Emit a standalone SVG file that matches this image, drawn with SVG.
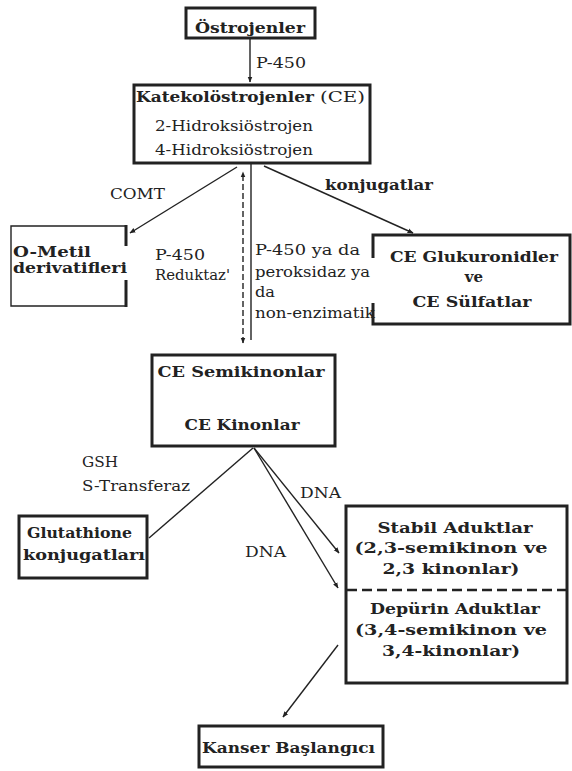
<svg xmlns="http://www.w3.org/2000/svg" width="572" height="771" viewBox="0 0 572 771">
<defs>
<marker id="ah" viewBox="0 0 10 10" refX="9" refY="5" markerWidth="6" markerHeight="6" orient="auto-start-reverse" markerUnits="userSpaceOnUse">
<path d="M0,1 L10,5 L0,9 z" fill="#222"/>
</marker>
<style>
text{font-family:'DejaVu Serif','Liberation Serif',serif;fill:#222;font-size:15px}
.b{font-weight:bold}
.s{font-size:14px}
.box{fill:#fff;stroke:#222;stroke-width:3}
.ln{stroke:#222;stroke-width:1.4;fill:none}
.edge{stroke:#222;stroke-width:3;fill:none}
</style>
</defs>
<rect width="572" height="771" fill="#fff"/>

<g id="connectors">
<line class="ln" x1="250" y1="38" x2="250" y2="82" marker-end="url(#ah)"/>
<line class="ln" x1="237" y1="167" x2="130" y2="233" marker-end="url(#ah)"/>
<line class="ln" x1="264" y1="166" x2="413" y2="233" marker-end="url(#ah)"/>
<line class="ln" x1="243" y1="343" x2="243" y2="172" stroke-dasharray="6,3" marker-start="url(#ah)" marker-end="url(#ah)"/>
<line class="ln" x1="251" y1="164" x2="251" y2="340"/>
<line class="ln" x1="250" y1="390" x2="250" y2="414" stroke-dasharray="2,2" marker-end="url(#ah)"/>
<line class="ln" x1="253" y1="448" x2="149" y2="538"/>
<line class="ln" x1="254" y1="448" x2="339" y2="553" marker-end="url(#ah)"/>
<line class="ln" x1="254" y1="448" x2="338" y2="588" marker-end="url(#ah)"/>
<line class="ln" x1="338" y1="645" x2="283" y2="717" marker-end="url(#ah)"/>
<text x="256" y="68" textLength="50" lengthAdjust="spacingAndGlyphs">P-450</text>
<text x="110" y="199" textLength="55" lengthAdjust="spacingAndGlyphs">COMT</text>
<text class="b" x="325" y="190" textLength="108" lengthAdjust="spacingAndGlyphs">konjugatlar</text>
<text class="s" x="155" y="260" textLength="50" lengthAdjust="spacingAndGlyphs">P-450</text>
<text class="s" x="155" y="280" textLength="75" lengthAdjust="spacingAndGlyphs">Reduktaz'</text>
<text class="s" x="255" y="255" textLength="105" lengthAdjust="spacingAndGlyphs">P-450 ya da</text>
<text class="s" x="255" y="277" textLength="115" lengthAdjust="spacingAndGlyphs">peroksidaz ya</text>
<text class="s" x="255" y="297" textLength="20" lengthAdjust="spacingAndGlyphs">da</text>
<text class="s" x="255" y="318" textLength="120" lengthAdjust="spacingAndGlyphs">non-enzimatik</text>
<text x="82" y="467" textLength="36" lengthAdjust="spacingAndGlyphs">GSH</text>
<text x="82" y="491" textLength="108" lengthAdjust="spacingAndGlyphs">S-Transferaz</text>
<text x="300" y="498" textLength="41" lengthAdjust="spacingAndGlyphs">DNA</text>
<text x="245" y="557" textLength="41" lengthAdjust="spacingAndGlyphs">DNA</text>
</g>

<g id="ostrojenler">
<rect class="box" x="186" y="8" width="129" height="30"/>
<text class="b" x="195" y="33" textLength="110" lengthAdjust="spacingAndGlyphs">Östrojenler</text>
</g>

<g id="katekol">
<rect class="box" x="134" y="85" width="236" height="78"/>
<text class="b" x="136" y="102" textLength="178" lengthAdjust="spacingAndGlyphs">Katekolöstrojenler</text>
<text x="320" y="102" textLength="45" lengthAdjust="spacingAndGlyphs">(CE)</text>
<text x="155" y="131" textLength="158" lengthAdjust="spacingAndGlyphs">2-Hidroksiöstrojen</text>
<text x="155" y="155" textLength="158" lengthAdjust="spacingAndGlyphs">4-Hidroksiöstrojen</text>
</g>

<g id="ometil">
<path class="ln" d="M126,226 H11 V306 H126" stroke-width="2"/>
<path class="edge" d="M126,225 V246 M126,280 V307"/>
<text class="b s" x="13" y="257" textLength="78" lengthAdjust="spacingAndGlyphs">O-Metil</text>
<text class="b s" x="13" y="273" textLength="114" lengthAdjust="spacingAndGlyphs">derivatifleri</text>
</g>

<g id="glukuronid">
<path class="edge" d="M373,258 V235 H570 V324 H373 V303"/>
<text class="b" x="474" y="262" text-anchor="middle" textLength="168" lengthAdjust="spacingAndGlyphs">CE Glukuronidler</text>
<text class="b" x="474" y="282" text-anchor="middle" font-size="12">ve</text>
<text class="b" x="472" y="307" text-anchor="middle" textLength="119" lengthAdjust="spacingAndGlyphs">CE Sülfatlar</text>
</g>

<g id="semikinon">
<rect class="box" x="152" y="355" width="183" height="91"/>
<text class="b" x="241" y="377" text-anchor="middle" textLength="167" lengthAdjust="spacingAndGlyphs">CE Semikinonlar</text>
<text class="b" x="242" y="430" text-anchor="middle" textLength="115" lengthAdjust="spacingAndGlyphs">CE Kinonlar</text>
</g>

<g id="glutathione">
<rect class="box" x="19" y="516" width="128" height="62"/>
<text class="b" x="27" y="538" textLength="105" lengthAdjust="spacingAndGlyphs">Glutathione</text>
<text class="b" x="23" y="560" textLength="122" lengthAdjust="spacingAndGlyphs">konjugatları</text>
</g>

<g id="adukt">
<rect class="box" x="346" y="506" width="221" height="177"/>
<line x1="347" y1="590" x2="566" y2="590" stroke="#222" stroke-width="2.5" stroke-dasharray="10,5"/>
<text class="b" x="455" y="533" text-anchor="middle" textLength="155" lengthAdjust="spacingAndGlyphs">Stabil Aduktlar</text>
<text class="b" x="451" y="553" text-anchor="middle" textLength="193" lengthAdjust="spacingAndGlyphs">(2,3-semikinon ve</text>
<text class="b" x="451" y="574" text-anchor="middle" textLength="137" lengthAdjust="spacingAndGlyphs">2,3 kinonlar)</text>
<text class="b" x="455" y="614" text-anchor="middle" textLength="170" lengthAdjust="spacingAndGlyphs">Depürin Aduktlar</text>
<text class="b" x="451" y="635" text-anchor="middle" textLength="192" lengthAdjust="spacingAndGlyphs">(3,4-semikinon ve</text>
<text class="b" x="451" y="656" text-anchor="middle" textLength="138" lengthAdjust="spacingAndGlyphs">3,4-kinonlar)</text>
</g>

<g id="kanser">
<rect class="box" x="199" y="726" width="184" height="41"/>
<text class="b" x="202" y="753" textLength="173" lengthAdjust="spacingAndGlyphs">Kanser Başlangıcı</text>
</g>
</svg>
